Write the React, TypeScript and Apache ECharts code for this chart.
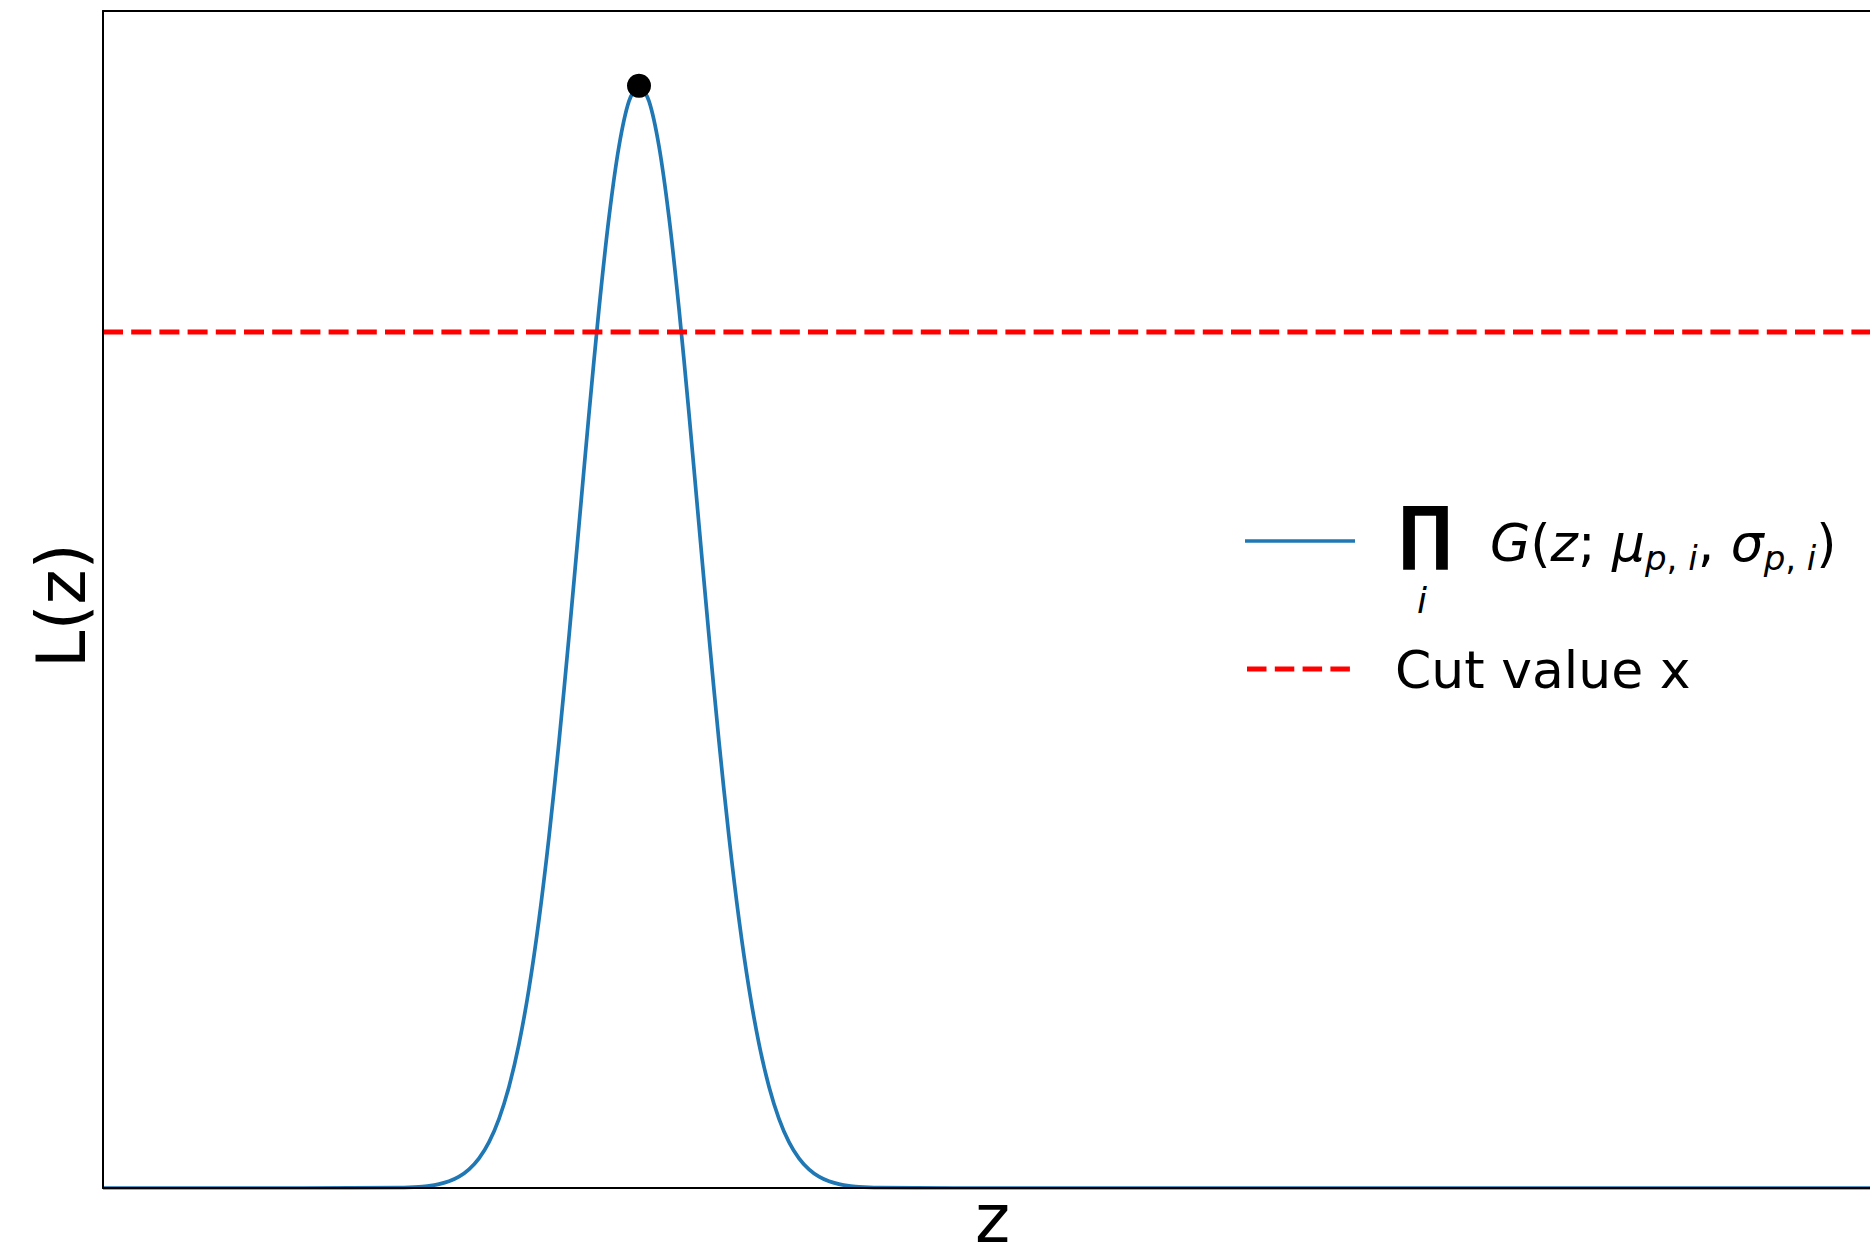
import React, { useEffect, useRef } from "react";
import * as echarts from "echarts";

// ---- data ----
const zValues = [
  0, 2.0,
  2.96, 3.06, 3.16, 3.26, 3.36, 3.46, 3.56, 3.66, 3.76, 3.86, 3.96, 4.06, 4.16, 4.26, 4.36, 4.46,
  4.56, 4.66, 4.76, 4.86, 4.96, 5.06, 5.16, 5.26, 5.36, 5.46, 5.56, 5.66, 5.76, 5.86, 5.96, 6.06,
  6.16, 6.26, 6.36, 6.46, 6.56, 6.66, 6.76, 6.86, 6.96, 7.06, 7.16, 7.26, 7.36, 7.46, 7.56, 7.66, 7.76,
  8.5, 17.79,
];
const likelihood = [
  0, 0,
  0.0003, 0.0005, 0.001, 0.0018, 0.0033, 0.0057, 0.0096, 0.0158, 0.0252, 0.039, 0.0588, 0.0861, 0.1225, 0.1695, 0.2281, 0.2983,
  0.3792, 0.4687, 0.5632, 0.6579, 0.747, 0.8247, 0.8851, 0.9234, 0.9365, 0.9234, 0.8851, 0.8247, 0.747, 0.6579, 0.5632, 0.4687,
  0.3792, 0.2983, 0.2281, 0.1695, 0.1225, 0.0861, 0.0588, 0.039, 0.0252, 0.0158, 0.0096, 0.0057, 0.0033, 0.0018, 0.001, 0.0005, 0.0003,
  0, 0,
];
const zRange = [0, 17.79];
const lRange = [0, 1];
const cutValue = [0.7273];
const peakZ = [5.36];
const peakL = [0.9365];

const xLabel = "z";
const yLabel = "L(z)";
const cutLabel = "Cut value x";
const prodSymbol = "∏";
const prodIndex = "i";

const FONT = "DejaVu Sans";

export default function App() {
  const ref = useRef<HTMLDivElement>(null);

  useEffect(() => {
    if (!ref.current) return;
    const chart = echarts.init(ref.current, null, { renderer: "svg" });

    const curve = zValues.map((z, i) => [z, likelihood[i]]);
    const cut = [
      [zRange[0], cutValue[0]],
      [zRange[1], cutValue[0]],
    ];
    const peak = peakZ.map((z, i) => [z, peakL[i]]);

    const axisLine = { show: true, lineStyle: { color: "#000", width: 2 } };

    chart.setOption({
      animation: false,
      backgroundColor: "#fff",
      grid: { left: 103, right: -12, top: 11, bottom: 69, outerBoundsMode: "none", containLabel: false },
      xAxis: [
        {
          type: "value",
          min: zRange[0],
          max: zRange[1],
          position: "bottom",
          axisLine,
          axisTick: { show: false },
          axisLabel: { show: false },
          splitLine: { show: false },
          name: xLabel,
          nameLocation: "middle",
          nameGap: 3,
          nameTextStyle: { fontSize: 67, lineHeight: 56, fontFamily: FONT, color: "#000" },
          z: 5,
        },
        {
          type: "value",
          min: zRange[0],
          max: zRange[1],
          position: "top",
          axisLine,
          axisTick: { show: false },
          axisLabel: { show: false },
          splitLine: { show: false },
          z: 5,
        },
      ],
      yAxis: {
        type: "value",
        min: lRange[0],
        max: lRange[1],
        axisLine,
        axisTick: { show: false },
        axisLabel: { show: false },
        splitLine: { show: false },
        name: yLabel,
        nameLocation: "middle",
        nameGap: 8,
        nameTextStyle: {
          fontSize: 67,
          fontFamily: FONT,
          color: "#000",
          padding: [0, 12, 0, 0],
        },
        z: 5,
      },
      series: [
        {
          type: "line",
          data: curve,
          showSymbol: false,
          smooth: 0.3,
          lineStyle: { color: "#1f77b4", width: 3.7 },
          z: 2,
        },
        {
          type: "line",
          data: cut,
          showSymbol: false,
          lineStyle: { color: "#ff0000", width: 5, type: [20, 8.2] },
          z: 3,
        },
        {
          type: "scatter",
          data: peak,
          symbol: "circle",
          symbolSize: 24,
          itemStyle: { color: "#000", opacity: 1 },
          z: 4,
        },
      ],
      graphic: [
        {
          type: "line",
          shape: { x1: 1245, y1: 541, x2: 1355, y2: 541 },
          style: { stroke: "#1f77b4", lineWidth: 3.7 },
        },
        {
          type: "line",
          shape: { x1: 1247, y1: 669, x2: 1352, y2: 669 },
          style: { stroke: "#ff0000", lineWidth: 5, lineDash: [19.5, 8.3] },
        },
        {
          type: "text",
          x: 1425.5,
          y: 532,
          style: {
            text: prodSymbol,
            fontSize: 70,
            fontWeight: "bold",
            fontFamily: FONT,
            fill: "#000",
            align: "center",
            verticalAlign: "middle",
          },
        },
        {
          type: "text",
          x: 1422,
          y: 600,
          style: {
            text: prodIndex,
            fontSize: 36,
            fontStyle: "italic",
            fontFamily: FONT,
            fill: "#000",
            align: "center",
            verticalAlign: "middle",
          },
        },
        {
          type: "text",
          x: 1490,
          y: 543,
          style: {
            text:
              "{mi|G}{mu|(}{mi|z}{mu|; }{mi|μ}{si|p}{su|, }{si|i}{mu|, }{mi|σ}{si|p}{su|, }{si|i}{mu|)}",
            fontFamily: FONT,
            fill: "#000",
            align: "left",
            verticalAlign: "middle",
            rich: {
              mi: { fontSize: 52, fontStyle: "italic", fontFamily: FONT, lineHeight: 70, fill: "#000" },
              mu: { fontSize: 52, fontFamily: FONT, lineHeight: 70, fill: "#000" },
              si: { fontSize: 34, fontStyle: "italic", fontFamily: FONT, lineHeight: 70, padding: [30, 0, 0, 0], fill: "#000" },
              su: { fontSize: 34, fontFamily: FONT, lineHeight: 70, padding: [30, 0, 0, 0], fill: "#000" },
            },
          },
        },
        {
          type: "text",
          x: 1395,
          y: 670,
          style: {
            text: cutLabel,
            fontSize: 52,
            fontFamily: FONT,
            fill: "#000",
            align: "left",
            verticalAlign: "middle",
          },
        },
      ],
    });

    return () => chart.dispose();
  }, []);

  return (
    <div
      ref={ref}
      style={{ position: "absolute", left: 0, top: 0, width: 1870, height: 1257, background: "#fff" }}
    />
  );
}
